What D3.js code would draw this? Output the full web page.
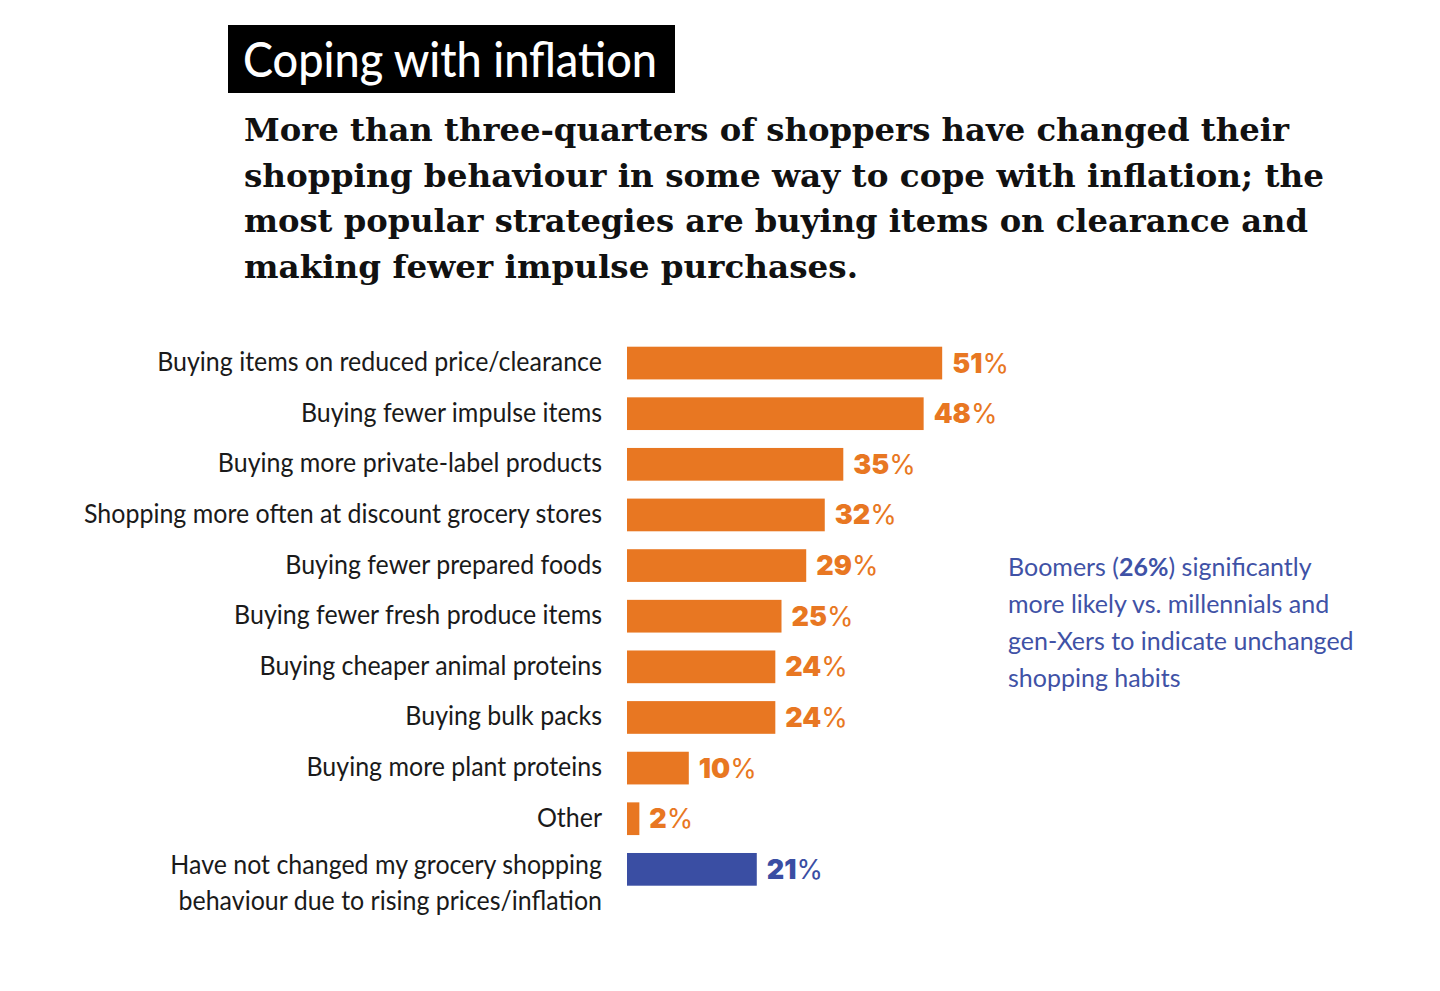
<!DOCTYPE html>
<html><head><meta charset="utf-8">
<script src="https://cdn.jsdelivr.net/npm/d3@7"></script>
<style>html,body{margin:0;padding:0;background:#fff;}</style>
</head><body>
<svg id="c" width="1440" height="991"></svg>
<script>
const categories = [
  "Buying items on reduced price/clearance",
  "Buying fewer impulse items",
  "Buying more private-label products",
  "Shopping more often at discount grocery stores",
  "Buying fewer prepared foods",
  "Buying fewer fresh produce items",
  "Buying cheaper animal proteins",
  "Buying bulk packs",
  "Buying more plant proteins",
  "Other",
  "Have not changed my grocery shopping|behaviour due to rising prices/inflation"
];
const values = [51, 48, 35, 32, 29, 25, 24, 24, 10, 2, 21];
const groups = ["changed","changed","changed","changed","changed","changed","changed","changed","changed","changed","unchanged"];
const titleText = "Coping with inflation";
const subtitleLines = [
  "More than three-quarters of shoppers have changed their",
  "shopping behaviour in some way to cope with inflation; the",
  "most popular strategies are buying items on clearance and",
  "making fewer impulse purchases."
];
const noteLines = [
  [["Boomers ",400],["(",400],["26%",700],[")",400],[" significantly",400]],
  [["more likely vs. millennials and",400]],
  [["gen-Xers to indicate unchanged",400]],
  [["shopping habits",400]]
];

const ORANGE = "#E87722", BLUE = "#3A4EA3";
const color = d3.scaleOrdinal().domain(["changed","unchanged"]).range([ORANGE, BLUE]);
const svg = d3.select("#c");

// Title
svg.append("rect").attr("x",228).attr("y",25).attr("width",447).attr("height",68).attr("fill","#000");
svg.append("text").attr("x",243).attr("y",77).attr("fill","#fff")
  .attr("font-family","Lato, 'Open Sans', sans-serif").attr("font-size",48).attr("font-weight",500)
  .attr("textLength",414).attr("lengthAdjust","spacingAndGlyphs").text(titleText);

// Subtitle
const subW = [1045, 1080, 1064, 614];
svg.append("g").selectAll("text").data(subtitleLines).join("text")
  .attr("x",244).attr("y",(d,i)=>141+i*45.7)
  .attr("font-family","'DejaVu Serif', serif").attr("font-weight",700).attr("font-size",32)
  .attr("fill","#111")
  .attr("textLength",(d,i)=>subW[i]).attr("lengthAdjust","spacingAndGlyphs")
  .text(d=>d);

// Scales
const y = d3.scaleBand().domain(categories).range([346.7, 885.7]).paddingInner(0.354).paddingOuter(0);
const x = d3.scaleLinear().domain([0, 100]).range([627, 627 + 618]);

const g = svg.append("g");
g.selectAll("rect.bar").data(categories).join("rect").attr("class","bar")
  .attr("x", x(0)).attr("y", d=>y(d))
  .attr("width",(d,i)=>x(values[i]) - x(0)).attr("height", y.bandwidth())
  .attr("fill",(d,i)=>color(groups[i]));

// Value labels
const vl = g.selectAll("text.val").data(categories).join("text").attr("class","val")
  .attr("x",(d,i)=>x(values[i]) + 10).attr("y", d=>y(d)+y.bandwidth()/2 + 9.5)
  .attr("fill",(d,i)=>color(groups[i]))
  .attr("font-family","Inter, Lato, sans-serif").attr("font-size",27);
vl.append("tspan").attr("font-weight",900).text((d,i)=>values[i]);
vl.append("tspan").attr("font-weight",400).text("%");

// Category labels (condensed look via horizontal scale, anchored at right edge)
const catG = g.append("g").attr("transform","translate(602,0) scale(0.925,1)");
const cl = catG.selectAll("text.cat").data(categories).join("text").attr("class","cat")
  .attr("text-anchor","end").attr("fill","#1a1a1a")
  .attr("font-family","Lato, 'Open Sans', sans-serif").attr("font-size",27);
cl.each(function(d){
  const parts = d.split("|");
  const cy = y(d)+y.bandwidth()/2;
  const t = d3.select(this);
  parts.forEach((p,k)=>{
    t.append("tspan").attr("x",0)
     .attr("y", cy + 9 + (parts.length>1 ? (k*36 - 4) : -1))
     .text(p);
  });
});

// Note
const nt = svg.append("g").selectAll("text").data(noteLines).join("text")
  .attr("x",1008).attr("y",(d,i)=>576+i*37)
  .attr("fill","#3F52A6").attr("font-family","Lato, 'Open Sans', sans-serif").attr("font-size",25);
nt.each(function(line){
  const t = d3.select(this);
  line.forEach(([s,w])=>t.append("tspan").attr("font-weight",w).text(s));
});
</script>
</body></html>
